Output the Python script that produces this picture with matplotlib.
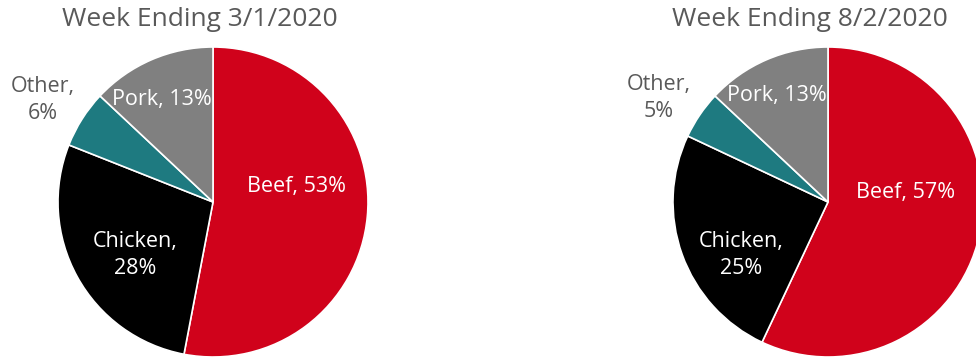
import matplotlib
matplotlib.use("Agg")
import matplotlib.pyplot as plt

categories = ["Beef", "Chicken", "Other", "Pork"]
shares_mar = [53, 28, 6, 13]
shares_aug = [57, 25, 5, 13]
titles = ["Week Ending 3/1/2020", "Week Ending 8/2/2020"]

colors = ["#D0021B", "#000000", "#1E7A80", "#808080"]
label_colors = ["white", "white", "#595959", "white"]

plt.rcParams['font.family'] = ['Open Sans', 'DejaVu Sans']

W, H = 976, 360
fig = plt.figure(figsize=(W / 100, H / 100), dpi=100)

R = 155
centers = [(213, 202), (828, 202)]
label_pos = [
    [(0.54, 0.10), (-0.50, -0.34), (-1.10, 0.66), (-0.33, 0.66)],
    [(0.50, 0.06), (-0.56, -0.34), (-1.09, 0.67), (-0.33, 0.69)],
]
title_x = [200, 810]

for i, (shares, title) in enumerate(zip([shares_mar, shares_aug], titles)):
    cx, cy = centers[i]
    ax = fig.add_axes([(cx - R) / W, (H - cy - R) / H, 2 * R / W, 2 * R / H])
    ax.pie(shares, colors=colors, startangle=90, counterclock=False, radius=1,
           wedgeprops=dict(edgecolor="white", linewidth=1.2))
    ax.set_xlim(-1, 1)
    ax.set_ylim(-1, 1)
    ax.set_aspect("equal")
    ax.axis("off")
    for j, (cat, val) in enumerate(zip(categories, shares)):
        if cat in ("Chicken", "Other"):
            txt = f"{cat},\n{val}%"
        else:
            txt = f"{cat}, {val}%"
        x, y = label_pos[i][j]
        ax.text(x, y, txt, ha="center", va="center", color=label_colors[j],
                fontsize=15.5, linespacing=1.38, clip_on=False)
    fig.text(title_x[i] / W, 1 - 19 / H, title, ha="center", va="center",
             fontsize=19, color="#595959")

fig.savefig("out.png", dpi=100)
